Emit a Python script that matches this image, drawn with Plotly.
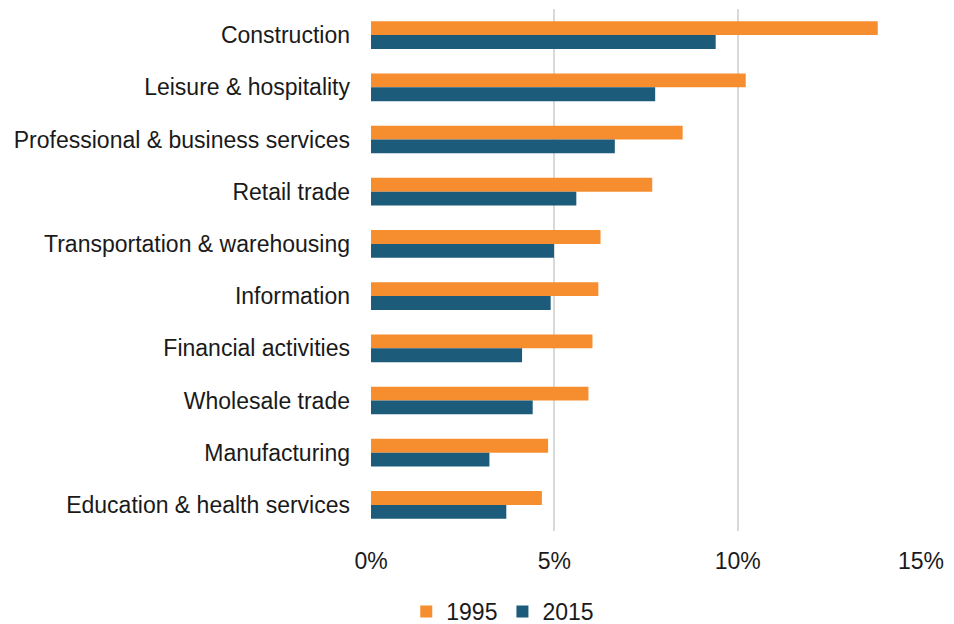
import plotly.graph_objects as go

# Industry groups, listed top to bottom
industries = [
    "Construction",
    "Leisure & hospitality",
    "Professional & business services",
    "Retail trade",
    "Transportation & warehousing",
    "Information",
    "Financial activities",
    "Wholesale trade",
    "Manufacturing",
    "Education & health services",
]

# Rates by industry, in percent
rate_1995 = [13.82, 10.22, 8.50, 7.67, 6.26, 6.20, 6.04, 5.93, 4.83, 4.66]
rate_2015 = [9.40, 7.75, 6.65, 5.60, 4.99, 4.90, 4.12, 4.41, 3.23, 3.69]

x_ticks = [0, 5, 10, 15]
x_tick_labels = ["0%", "5%", "10%", "15%"]

ORANGE = "#F68D2E"
BLUE = "#1D5B7B"
TEXT = "#1a1a1a"
FONT = "Liberation Sans, Arial, sans-serif"

fig = go.Figure()
fig.add_trace(go.Bar(
    name="1995", y=industries, x=rate_1995, orientation="h",
    marker=dict(color=ORANGE, line=dict(width=0)),
))
fig.add_trace(go.Bar(
    name="2015", y=industries, x=rate_2015, orientation="h",
    marker=dict(color=BLUE, line=dict(width=0)),
))

fig.update_layout(
    width=954, height=624,
    margin=dict(l=371, r=33, t=9, b=93),
    barmode="group",
    bargap=0.47,
    bargroupgap=0,
    plot_bgcolor="white",
    paper_bgcolor="white",
    font=dict(family=FONT, size=23, color=TEXT),
    showlegend=True,
    legend=dict(
        orientation="h", xref="container", x=0.527, xanchor="center",
        yref="container", y=0.02, yanchor="middle",
        font=dict(size=23, color=TEXT), itemwidth=30, traceorder="normal",
    ),
    xaxis=dict(
        range=[0, 15], tickvals=x_ticks, ticktext=x_tick_labels,
        showgrid=True, gridcolor="#d9d9d9", gridwidth=2,
        zeroline=False, showline=False, ticks="", ticklabelstandoff=14,
        fixedrange=True,
    ),
    yaxis=dict(
        autorange="reversed", showgrid=False, zeroline=False,
        showline=False, ticks="", ticklabelstandoff=20,
    ),
)

fig.write_html("out.html")
